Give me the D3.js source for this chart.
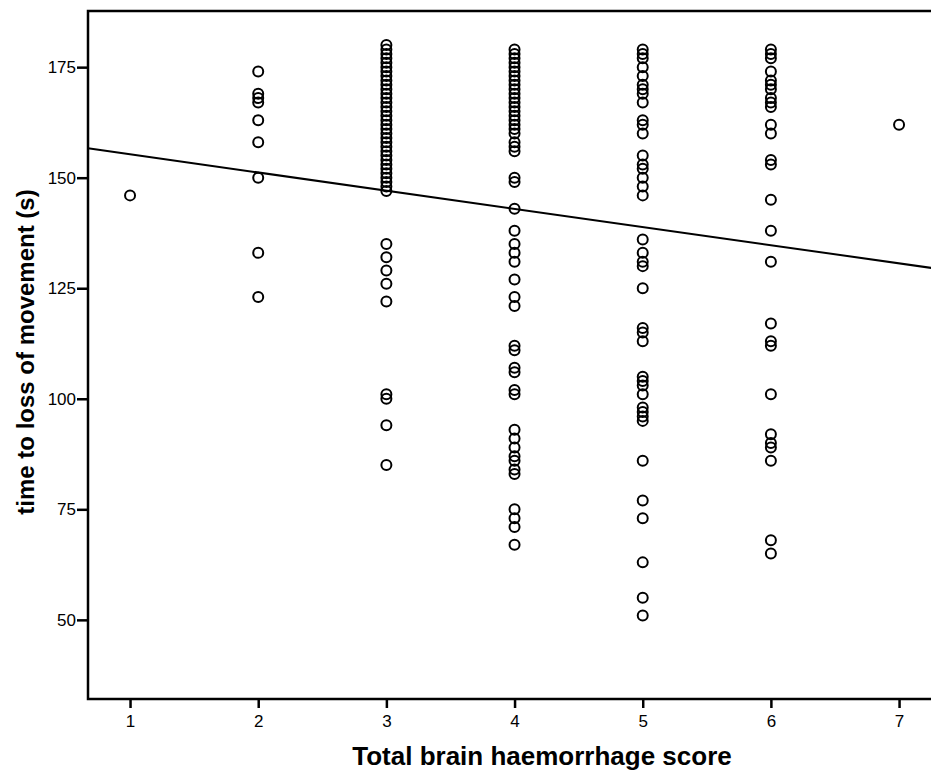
<!DOCTYPE html>
<html>
<head>
<meta charset="utf-8">
<script src="https://cdn.jsdelivr.net/npm/d3@7"></script>
<style>
  body { margin: 0; background: #fff; }
  svg { display: block; }
  .tick text { font-family: 'Liberation Sans', Arial, sans-serif; font-size: 17px; fill: #000; }
  .axis-title { font-family: 'Liberation Sans', Arial, sans-serif; font-weight: bold; fill: #000; }
</style>
</head>
<body>
<div id="chart"></div>
<script>
// time to loss of movement (s) grouped by total brain haemorrhage score
var scores = [1, 2, 3, 4, 5, 6, 7];
var times1 = [146];
var times2 = [174, 169, 168, 167, 163, 158, 150, 133, 123];
var times3 = [180, 179, 178, 177, 176, 175, 174, 173, 172, 171, 170, 169, 168, 167, 166,
              165, 164, 163, 162, 161, 160, 159, 158, 157, 156, 155, 154, 153, 152, 151,
              150, 149, 148, 147, 135, 132, 129, 126, 122, 101, 100, 94, 85];
var times4 = [179, 178, 177, 176, 175, 174, 173, 172, 171, 170, 169, 168, 167, 166, 165,
              164, 163, 162, 161, 160, 158, 157, 156, 150, 149, 143, 138, 135, 133, 131,
              127, 123, 121, 112, 111, 107, 106, 102, 101, 93, 91, 89, 87, 86, 84, 83,
              75, 73, 71, 67];
var times5 = [179, 178, 177, 175, 173, 171, 170, 169, 167, 163, 162, 160, 155, 153, 152,
              150, 148, 146, 136, 133, 131, 130, 125, 116, 115, 113, 105, 104, 103, 101,
              98, 97, 96, 95, 86, 77, 73, 63, 55, 51];
var times6 = [179, 178, 177, 174, 172, 171, 170, 168, 167, 166, 162, 160, 154, 153, 145,
              138, 131, 117, 113, 112, 101, 92, 90, 89, 86, 68, 65];
var times7 = [162];

var yTicks = [50, 75, 100, 125, 150, 175];

// fit line
var fitIntercept = 159.4;
var fitSlope = -4.11;

var groups = [times1, times2, times3, times4, times5, times6, times7];
var data = [];
groups.forEach(function (times, i) {
  times.forEach(function (t) {
    data.push({ score: scores[i], time: t });
  });
});

var margin = { top: 11, right: 0, bottom: 71, left: 88 },
    width = 931,
    height = 770;

var svg = d3.select('#chart').append('svg')
    .attr('width', width)
    .attr('height', height);

var xDomain = [0.672, 7.3];
var x = d3.scaleLinear()
    .domain(xDomain)
    .range([margin.left, margin.left + (xDomain[1] - xDomain[0]) * 128.17]);

var y = d3.scaleLinear()
    .domain([32.1, 187.7])
    .range([height - margin.bottom, margin.top]);

var xAxis = d3.axisBottom(x)
    .tickValues(scores)
    .tickFormat(d3.format('d'))
    .tickSize(9)
    .tickPadding(7);

var yAxis = d3.axisLeft(y)
    .tickValues(yTicks)
    .tickSize(11)
    .tickPadding(1);

svg.append('g')
    .attr('class', 'axis')
    .attr('transform', 'translate(0,' + y.range()[0] + ')')
    .call(xAxis);

svg.append('g')
    .attr('class', 'axis')
    .attr('transform', 'translate(' + margin.left + ',0)')
    .call(yAxis);

svg.selectAll('.axis .domain').remove();
svg.selectAll('.axis .tick line')
    .attr('stroke', '#000')
    .attr('stroke-width', 2.5);

// frame
svg.append('rect')
    .attr('x', x.range()[0])
    .attr('y', y.range()[1])
    .attr('width', x.range()[1] - x.range()[0])
    .attr('height', y.range()[0] - y.range()[1])
    .attr('fill', 'none')
    .attr('stroke', '#000')
    .attr('stroke-width', 2.5);

// points
svg.append('g')
    .selectAll('circle')
    .data(data)
    .enter()
    .append('circle')
    .attr('cx', function (d) { return x(d.score); })
    .attr('cy', function (d) { return y(d.time); })
    .attr('r', 5)
    .attr('fill', 'none')
    .attr('stroke', '#000')
    .attr('stroke-width', 2);

// fit line
svg.append('line')
    .attr('x1', x(xDomain[0]))
    .attr('x2', x(xDomain[1]))
    .attr('y1', y(fitIntercept + fitSlope * xDomain[0]))
    .attr('y2', y(fitIntercept + fitSlope * xDomain[1]))
    .attr('stroke', '#000')
    .attr('stroke-width', 2);

svg.append('text')
    .attr('class', 'axis-title')
    .attr('x', 542)
    .attr('y', 765)
    .attr('text-anchor', 'middle')
    .style('font-size', '26px')
    .text('Total brain haemorrhage score');

svg.append('text')
    .attr('class', 'axis-title')
    .attr('transform', 'translate(34,352) rotate(-90)')
    .attr('text-anchor', 'middle')
    .style('font-size', '24px')
    .text('time to loss of movement (s)');
</script>
</body>
</html>
